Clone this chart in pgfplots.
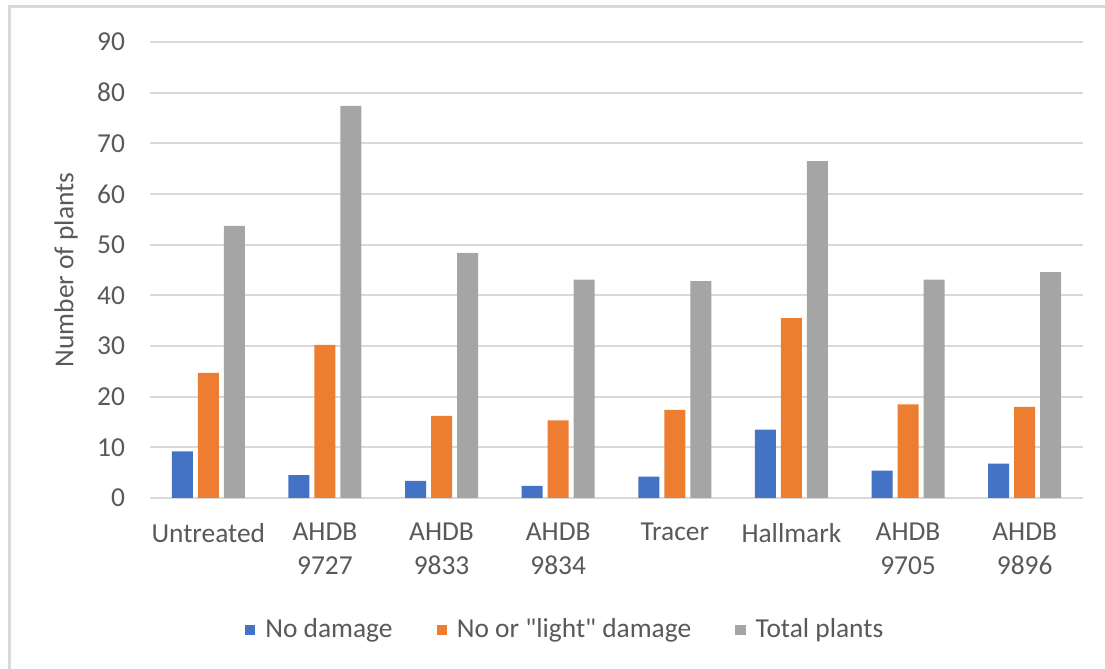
\documentclass[border=0pt]{standalone}
\usepackage{pgfplots}
\pgfplotsset{compat=1.18}
\usepackage{fontspec}
\setmainfont{Carlito}
% family without TeX ligatures, so that " stays a straight quote
\newfontfamily\straightquotes{Carlito}
\newcommand{\sq}{{\straightquotes"}}
\definecolor{exblue}{HTML}{4472C4}
\definecolor{exorange}{HTML}{ED7D31}
\definecolor{exgray}{HTML}{A5A5A5}
\definecolor{gridgray}{HTML}{D9D9D9}
\definecolor{labelgray}{HTML}{595959}
\newcommand{\chartfont}{\fontsize{13.7}{17}\selectfont}
\begin{document}
\begin{tikzpicture}
\useasboundingbox (0,0) rectangle (552.5pt,334.5pt);
% outer frame (top and left edges)
\draw[gridgray, line width=1.5pt] (4.75pt,0) -- (4.75pt,331pt) -- (552.5pt,331pt);
\begin{axis}[
  at={(75pt,85.5pt)}, anchor=south west,
  scale only axis, width=466.5pt, height=228pt,
  xmin=-0.5, xmax=7.5, ymin=0, ymax=90,
  axis line style={draw=none},
  xtick pos=bottom, ytick pos=left,
  ytick={0,10,...,90}, xtick={0,...,7},
  ymajorgrids, grid style={gridgray, line width=1pt},
  major tick length=0pt,
  /pgf/number format/assume math mode=true,
  tick label style={font=\chartfont, text=labelgray},
  yticklabel style={anchor=east, xshift=-9pt},
  xticklabels={Untreated,{AHDB\\9727},{AHDB\\9833},{AHDB\\9834},Tracer,Hallmark,{AHDB\\9705},{AHDB\\9896}},
  xticklabel style={align=center, anchor=north, yshift=-9pt},
  ylabel={Number of plants},
  ylabel style={at={(axis description cs:-0.09,0.5)}, anchor=center, font=\chartfont, text=labelgray},
  ybar, bar width=10.5pt,
  legend columns=3,
  legend style={at={(0.446,-0.289)}, anchor=center, draw=none, font=\chartfont, text=labelgray,
    /tikz/every even column/.append style={column sep=20pt},
    /tikz/every odd column/.append style={column sep=3pt}},
  legend image code/.code={\fill[#1] (0pt,-2.6pt) rectangle (5.2pt,2.6pt);},
]
\addplot[fill=exblue, draw=none, bar shift=-13pt] coordinates {
  (0,9.2) (1,4.5) (2,3.4) (3,2.4) (4,4.2) (5,13.5) (6,5.4) (7,6.8)};
\addplot[fill=exorange, draw=none, bar shift=0pt] coordinates {
  (0,24.7) (1,30.2) (2,16.2) (3,15.3) (4,17.4) (5,35.5) (6,18.5) (7,18.0)};
\addplot[fill=exgray, draw=none, bar shift=13pt] coordinates {
  (0,53.7) (1,77.4) (2,48.4) (3,43.1) (4,42.8) (5,66.5) (6,43.1) (7,44.6)};
\legend{No damage, No or \sq light\sq{} damage, Total plants}
\end{axis}
\end{tikzpicture}
\end{document}
